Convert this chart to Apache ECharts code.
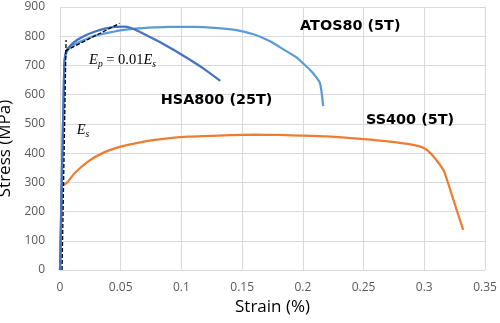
<!DOCTYPE html>
<html>
<head>
<meta charset="utf-8">
<script src="https://cdn.jsdelivr.net/npm/echarts@6/dist/echarts.min.js"></script>
<style>
html,body{margin:0;padding:0;background:#fff;}
#main{width:500px;height:323px;}
</style>
</head>
<body>
<div id="main"></div>
<script>
// Tick labels
const xTicks = [0, 0.05, 0.1, 0.15, 0.2, 0.25, 0.3, 0.35];
const yTicks = [0, 100, 200, 300, 400, 500, 600, 700, 800, 900];

// SS400 (5T)
const ssStrain = [0, 0.001, 0.0015, 0.003, 0.006, 0.012, 0.023, 0.035, 0.05, 0.065, 0.078, 0.105, 0.13, 0.16, 0.181, 0.2, 0.22, 0.25, 0.27, 0.291, 0.3, 0.305, 0.31, 0.316, 0.324, 0.332];
const ssStress = [0, 150, 298, 291, 300, 331, 371, 400, 422, 436, 445, 456, 460, 463, 462, 460, 457, 448, 440, 428, 417, 400, 376, 340, 240, 137];

// ATOS80 (5T)
const atosStrain = [0, 0.0035, 0.0045, 0.007, 0.012, 0.02, 0.029, 0.04, 0.051, 0.062, 0.078, 0.09, 0.11, 0.13, 0.1455, 0.16, 0.173, 0.184, 0.195, 0.2, 0.207, 0.214, 0.2167];
const atosStress = [0, 690, 735, 756, 772, 787, 802, 812, 821, 826, 830, 832, 832, 828, 821, 806, 783, 755, 727, 708, 680, 640, 561];

// HSA800 (25T)
const hsaStrain = [0, 0.0035, 0.0045, 0.006, 0.009, 0.014, 0.02, 0.029, 0.037, 0.045, 0.0535, 0.058, 0.062, 0.07, 0.084, 0.103, 0.118, 0.132];
const hsaStress = [0, 700, 740, 755, 770, 787, 801, 816, 826, 832, 833, 829, 822, 806, 776, 730, 690, 647];

// Reference lines: elastic modulus Es and plastic modulus Ep = 0.01Es
const esStrain = [0.0017, 0.005];
const esStress = [0, 787];
const epStrain = [0.0045, 0.049];
const epStress = [750, 844];

// Labels
const seriesNames = ['SS400 (5T)', 'ATOS80 (5T)', 'HSA800 (25T)'];
const labelAnchors = [[0.252, 512], [0.1977, 835], [0.083, 580]];
const esAnchor = [0.0138, 480];
const epAnchor = [0.0239, 719];

function zip(a, b) { return a.map((v, i) => [v, b[i]]); }

const chart = echarts.init(document.getElementById('main'), null, {renderer: 'canvas'});

const lineBase = {type: 'line', showSymbol: false, symbol: 'none', smooth: 0.2, animation: false, z: 2};

const option = {
  animation: false,
  backgroundColor: '#ffffff',
  grid: {left: 60, right: 15, top: 7, bottom: 53, containLabel: false, outerBoundsMode: 'none'},
  xAxis: {
    type: 'value', min: 0, max: 0.35, interval: 0.05,
    name: 'Strain (%)', nameLocation: 'middle', nameGap: 23,
    nameTextStyle: {fontFamily: 'Open Sans', fontSize: 17, color: '#000'},
    axisLine: {show: true, lineStyle: {color: '#d9d9d9', width: 1}},
    axisTick: {show: false},
    axisLabel: {margin: 12, color: '#595959', fontFamily: 'Open Sans', fontSize: 12,
      formatter: v => String(parseFloat(v.toFixed(2)))},
    splitLine: {show: true, lineStyle: {color: '#d9d9d9', width: 1}}
  },
  yAxis: {
    type: 'value', min: 0, max: 900, interval: 100,
    name: 'Stress (MPa)', nameLocation: 'middle', nameGap: 40,
    nameTextStyle: {fontFamily: 'Open Sans', fontSize: 17, color: '#000', padding: [0, 20, 0, 0]},
    axisLine: {show: false},
    axisTick: {show: false},
    axisLabel: {margin: 15, color: '#595959', fontFamily: 'Open Sans', fontSize: 12},
    splitLine: {show: true, lineStyle: {color: '#d9d9d9', width: 1}}
  },
  series: [
    Object.assign({}, lineBase, {name: seriesNames[0], data: zip(ssStrain, ssStress), lineStyle: {color: '#ED7D31', width: 2.25}}),
    Object.assign({}, lineBase, {name: seriesNames[1], data: zip(atosStrain, atosStress), lineStyle: {color: '#5B9BD5', width: 2.25}}),
    Object.assign({}, lineBase, {name: seriesNames[2], data: zip(hsaStrain, hsaStress), lineStyle: {color: '#4472C4', width: 2.25}}),
    Object.assign({}, lineBase, {name: 'Es', smooth: false, z: 3, data: zip(esStrain, esStress), lineStyle: {color: '#000', width: 1.3, type: [4, 2]}}),
    Object.assign({}, lineBase, {name: 'Ep', smooth: false, z: 3, data: zip(epStrain, epStress), lineStyle: {color: '#000', width: 1.3, type: [4, 2]}})
  ]
};
chart.setOption(option);

const boldFont = 'bold 14.4px "DejaVu Sans"';
const graphics = seriesNames.map((name, i) => {
  const p = chart.convertToPixel({gridIndex: 0}, labelAnchors[i]);
  return {type: 'text', x: p[0], y: p[1], z: 10,
    style: {text: name, font: boldFont, fill: '#000', align: 'left', verticalAlign: 'middle'}};
});
const serif = '"Liberation Serif", "Times New Roman", serif';
const rich = {
  i: {fontFamily: serif, fontStyle: 'italic', fontSize: 14.5, lineHeight: 20, fill: '#000'},
  n: {fontFamily: serif, fontSize: 14.5, lineHeight: 20, fill: '#000'},
  sub: {fontFamily: serif, fontStyle: 'italic', fontSize: 9.5, lineHeight: 11, verticalAlign: 'bottom', fill: '#000'}
};
const pEp = chart.convertToPixel({gridIndex: 0}, epAnchor);
const pEs = chart.convertToPixel({gridIndex: 0}, esAnchor);
graphics.push({type: 'text', x: pEp[0], y: pEp[1], z: 10,
  style: {text: '{i|E}{sub|p}{n| = 0.01}{i|E}{sub|s}', rich: rich, align: 'left', verticalAlign: 'middle'}});
graphics.push({type: 'text', x: pEs[0], y: pEs[1], z: 10,
  style: {text: '{i|E}{sub|s}', rich: rich, align: 'left', verticalAlign: 'middle'}});
chart.setOption({graphic: graphics});
</script>
</body>
</html>
